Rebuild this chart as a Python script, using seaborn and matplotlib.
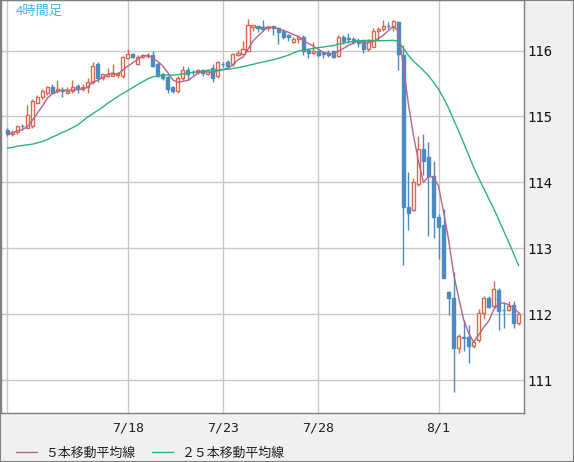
import numpy as np
import pandas as pd
import seaborn as sns
import matplotlib.pyplot as plt
from matplotlib.patches import Rectangle

# 4h candles
opens = [114.80, 114.73, 114.77, 114.86, 114.83, 114.86, 115.21, 115.29, 115.36, 115.45,
         115.38, 115.40, 115.36, 115.38, 115.47, 115.41, 115.45, 115.52, 115.79, 115.59,
         115.62, 115.62, 115.63, 115.62, 115.89, 115.95, 115.80, 115.91, 115.92, 115.94,
         115.80, 115.64, 115.60, 115.44, 115.39, 115.58, 115.70, 115.68, 115.67, 115.70,
         115.65, 115.73, 115.61, 115.80, 115.82, 115.79, 115.94, 115.95, 116.00, 116.36,
         116.38, 116.36, 116.34, 116.38, 116.35, 116.29, 116.23, 116.13, 116.18, 116.20,
         116.01, 115.96, 115.99, 115.96, 115.97, 115.99, 115.92, 116.20, 116.19, 116.18,
         116.15, 116.15, 116.02, 116.06, 116.30, 116.32, 116.38, 116.36, 116.44, 115.94,
         113.63, 113.58, 113.98, 114.50, 114.38, 114.09, 113.48, 113.36, 112.34, 112.25,
         111.49, 111.66, 111.65, 111.52, 111.61, 112.01, 112.25, 112.12, 112.37, 112.07,
         112.06, 112.14, 111.86]
highs = [114.83, 114.79, 114.86, 114.88, 115.18, 115.26, 115.32, 115.42, 115.47, 115.50,
         115.55, 115.44, 115.44, 115.55, 115.50, 115.49, 115.58, 115.83, 115.82, 115.65,
         115.73, 115.79, 115.67, 115.92, 116.03, 115.96, 115.93, 115.95, 115.96, 115.99,
         115.82, 115.66, 115.62, 115.47, 115.61, 115.76, 115.75, 115.71, 115.72, 115.72,
         115.72, 115.80, 115.84, 115.83, 115.85, 115.97, 116.01, 116.14, 116.48, 116.39,
         116.38, 116.47, 116.38, 116.38, 116.36, 116.32, 116.25, 116.20, 116.23, 116.23,
         116.03, 116.13, 116.00, 116.00, 116.01, 116.01, 116.23, 116.23, 116.26, 116.20,
         116.19, 116.17, 116.17, 116.35, 116.36, 116.47, 116.43, 116.47, 116.45, 116.08,
         114.16, 114.06, 114.71, 114.74, 114.61, 114.33, 113.52, 113.60, 112.35, 112.64,
         111.70, 111.91, 111.83, 111.61, 112.08, 112.28, 112.27, 112.50, 112.39, 112.19,
         112.20, 112.20, 112.03]
lows = [114.70, 114.70, 114.73, 114.79, 114.82, 114.82, 115.20, 115.27, 115.33, 115.35,
        115.36, 115.30, 115.35, 115.36, 115.36, 115.38, 115.36, 115.50, 115.52, 115.56,
        115.60, 115.61, 115.58, 115.59, 115.89, 115.88, 115.78, 115.89, 115.89, 115.75,
        115.60, 115.55, 115.35, 115.36, 115.36, 115.56, 115.55, 115.63, 115.65, 115.62,
        115.63, 115.52, 115.59, 115.75, 115.74, 115.76, 115.92, 115.93, 115.99, 116.30,
        116.28, 116.30, 116.30, 116.23, 116.10, 116.18, 116.15, 116.11, 116.12, 115.94,
        115.88, 115.95, 115.91, 115.88, 115.91, 115.89, 115.90, 116.10, 116.12, 116.10,
        116.05, 115.97, 115.99, 116.05, 116.14, 116.30, 116.32, 116.30, 115.71, 112.75,
        113.27, 113.57, 113.94, 114.11, 113.18, 113.15, 112.84, 112.55, 111.98, 110.82,
        111.41, 111.44, 111.26, 111.48, 111.58, 111.92, 112.09, 112.10, 111.76, 111.79,
        112.05, 111.79, 111.83]
closes = [114.73, 114.77, 114.85, 114.85, 115.02, 115.23, 115.30, 115.39, 115.45, 115.36,
          115.41, 115.39, 115.39, 115.45, 115.41, 115.44, 115.53, 115.77, 115.59, 115.64,
          115.65, 115.65, 115.66, 115.91, 115.95, 115.90, 115.91, 115.93, 115.94, 115.77,
          115.62, 115.59, 115.41, 115.39, 115.58, 115.70, 115.65, 115.67, 115.70, 115.66,
          115.70, 115.59, 115.82, 115.79, 115.77, 115.95, 115.97, 116.02, 116.39, 116.39,
          116.34, 116.33, 116.36, 116.35, 116.28, 116.21, 116.20, 116.18, 116.20, 116.00,
          115.97, 116.00, 115.94, 115.95, 115.94, 115.91, 116.20, 116.15, 116.18, 116.13,
          116.12, 116.02, 116.14, 116.30, 116.33, 116.38, 116.37, 116.45, 115.95, 113.63,
          113.53, 114.00, 114.50, 114.33, 114.09, 113.48, 113.32, 112.55, 112.25, 111.49,
          111.67, 111.64, 111.52, 111.58, 112.01, 112.25, 112.11, 112.38, 112.05, 112.06,
          112.12, 111.87, 112.00]

# 25-bar average for the first bars (history before the chart starts)
ma25_head = [114.52, 114.53, 114.55, 114.56, 114.57, 114.58, 114.60, 114.62, 114.65, 114.69,
             114.72, 114.76, 114.79, 114.83, 114.87, 114.93, 114.99, 115.04, 115.09, 115.14,
             115.20, 115.25, 115.30, 115.35]

date_ticks = [0, 24, 43, 62, 86]
date_labels = ["", "7/18", "7/23", "7/28", "8/1"]
price_ticks = [111, 112, 113, 114, 115, 116]

df = pd.DataFrame({"open": opens, "high": highs, "low": lows, "close": closes})
df["i"] = np.arange(len(df))
df["ma5"] = df["close"].rolling(5, min_periods=1).mean()
ma25 = df["close"].rolling(25).mean()
ma25.iloc[:len(ma25_head)] = ma25_head
df["ma25"] = ma25

UP = "#d9674a"
DOWN = "#4a8bc4"
MA5 = "#b5648a"
MA25 = "#2cb37a"

sns.set_style("white")
plt.rcParams["font.family"] = ["DejaVu Sans Mono", "Noto Sans CJK JP"]

fig = plt.figure(figsize=(5.74, 4.62), dpi=100, facecolor="#f0f0f0")
ax = fig.add_axes([0.5 / 574, 49 / 462, 523 / 574, 412.5 / 462])
ax.set_facecolor("white")

up = df[df["close"] >= df["open"]]
down = df[df["close"] < df["open"]]

# wicks
ax.vlines(up["i"], up["low"], up["high"], color=UP, linewidth=1, zorder=2)
ax.vlines(down["i"], down["low"], down["high"], color=DOWN, linewidth=1, zorder=2)

# bodies
ax.bar(up["i"], (up["close"] - up["open"]).clip(lower=0.005), bottom=up["open"],
       width=0.62, facecolor="white", edgecolor=UP, linewidth=1, zorder=3)
ax.bar(down["i"], (down["open"] - down["close"]).clip(lower=0.005), bottom=down["close"],
       width=0.62, facecolor=DOWN, edgecolor=DOWN, linewidth=1, zorder=3)

sns.lineplot(data=df, x="i", y="ma5", ax=ax, color=MA5, linewidth=1,
             label="５本移動平均線", zorder=4)
sns.lineplot(data=df, x="i", y="ma25", ax=ax, color=MA25, linewidth=1,
             label="２５本移動平均線", zorder=4)

ax.set_xlim(-1.36, 102.95)
ax.set_ylim(110.5, 116.76)
ax.set_xticks(date_ticks)
ax.set_xticklabels(date_labels)
ax.set_yticks(price_ticks)
ax.set_yticklabels([str(p) for p in price_ticks])
ax.yaxis.tick_right()
ax.tick_params(axis="y", length=0, pad=3, labelsize=10, labelcolor="#111111")
ax.tick_params(axis="x", length=0, pad=6, labelsize=9.5, labelcolor="#222222")
ax.set_xlabel("")
ax.set_ylabel("")
ax.grid(True, color="#c8c8c8", linewidth=1)
ax.set_axisbelow(True)
for s in ax.spines.values():
    s.set_color("#7f7f7f")
    s.set_linewidth(1)

ax.text(15 / 523, 1 - 11 / 412.5, "4時間足", transform=ax.transAxes,
        color="#3bb9ea", fontsize=9.5, va="center", ha="left",
        family=["Noto Sans CJK JP", "DejaVu Sans"])

handles, labels = ax.get_legend_handles_labels()
ax.get_legend().remove()
fig.legend(handles, labels, loc="center left", bbox_to_anchor=(16 / 574, 1 - 453 / 462),
           ncol=2, frameon=False, borderpad=0, borderaxespad=0,
           handlelength=1.63, handletextpad=0.62, columnspacing=1.32,
           prop={"family": ["Noto Sans CJK JP", "DejaVu Sans"], "size": 9.3},
           labelcolor="#222222")

fig.patches.append(Rectangle((0, 0), 1, 1, transform=fig.transFigure, fill=False,
                             edgecolor="#808080", linewidth=1.5))

fig.savefig("out.png", dpi=100, facecolor=fig.get_facecolor())
